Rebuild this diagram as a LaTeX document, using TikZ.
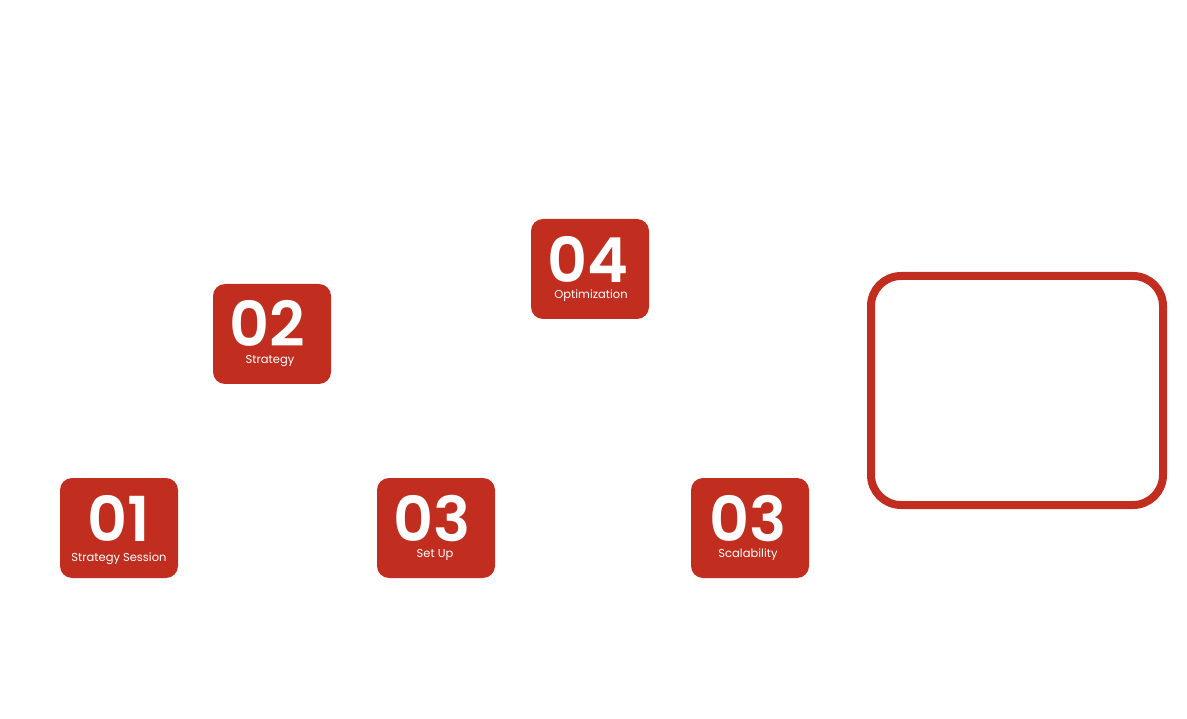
\documentclass[tikz,border=0pt]{standalone}
\usepackage{fontspec}
\setmainfont{Poppins}
\newfontfamily\numfont{Poppins SemiBold}
\definecolor{brand}{HTML}{C12E1F}
\tikzset{
  stepcard/.style={fill=brand, rounded corners=12pt, minimum width=118pt, minimum height=100pt, inner sep=0pt, draw=none},
  bignum/.style={text=white, font=\fontsize{62}{62}\numfont, anchor=base, inner sep=0pt},
  steplabel/.style={text=white, font=\fontsize{11.5}{12}\selectfont, anchor=base, inner sep=0pt},
  frame/.style={draw=brand, line width=8pt, rounded corners=30pt}
}
\begin{document}
\begin{tikzpicture}[x=1pt,y=-1pt]
\useasboundingbox (0,0) rectangle (1187,719);
% cards
\node[stepcard] (c1) at (119,528) {};
\node[stepcard] (c2) at (272,334) {};
\node[stepcard] (c4) at (590,269) {};
\node[stepcard] (c3) at (436,528) {};
\node[stepcard] (c5) at (750,528) {};
% numbers
\node[bignum] (n1) at (119,541) {01};
\node[bignum] (n2) at (267,347) {02};
\node[bignum] (n4) at (588,283) {04};
\node[bignum] (n3) at (432,541) {03};
\node[bignum] (n5) at (748,541) {03};
% labels
\node[steplabel] (l1) at (119,561) {Strategy Session};
\node[steplabel] (l2) at (270,364) {Strategy};
\node[steplabel] (l4) at (591,299) {Optimization};
\node[steplabel] (l3) at (435,557) {Set Up};
\node[steplabel] (l5) at (748,557) {Scalability};
% frame
\draw[frame] (871,276) rectangle (1163,505);
\end{tikzpicture}
\end{document}
